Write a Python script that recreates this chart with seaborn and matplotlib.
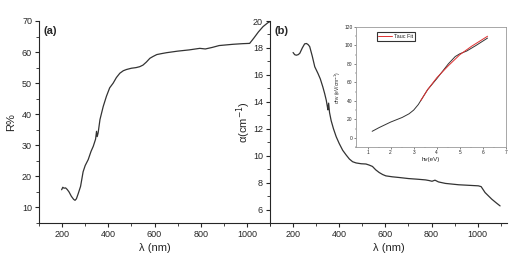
import matplotlib
matplotlib.use('Agg')
import matplotlib.pyplot as plt
import numpy as np
import seaborn as sns
from matplotlib.ticker import MultipleLocator

# (a) reflectance
wl_a = [198, 203, 208, 215, 222, 230, 240, 250, 256, 262, 270, 280, 291, 300, 313,
        325, 335, 345, 349, 352, 356, 364, 378, 392, 406, 421, 435, 450, 465, 479,
        500, 520, 536, 550, 565, 580, 594, 610, 630, 652, 700, 750, 796, 820, 850,
        880, 939, 980, 1012, 1030, 1050, 1070, 1090, 1100]
R = [15.7, 16.5, 16.2, 16.3, 15.8, 15.0, 13.6, 12.6, 12.3, 12.8, 14.5, 16.8, 21.5, 23.5, 25.4,
     28.0, 29.7, 32.0, 34.5, 32.8, 34.0, 38.3, 42.5, 45.8, 48.5, 50.0, 51.8, 53.2, 54.0, 54.4,
     54.8, 55.0, 55.3, 55.8, 56.8, 58.0, 58.6, 59.2, 59.5, 59.8, 60.3, 60.7, 61.2, 61.0, 61.5,
     62.1, 62.5, 62.7, 62.8, 64.5, 66.5, 68.2, 69.4, 69.8]

# (b) absorption coefficient
wl_b = [200, 207, 214, 222, 229, 240, 250, 258, 265, 272, 283, 294, 308, 318, 329,
        337, 344, 348, 351, 354, 358, 365, 375, 387, 400, 415, 430, 444, 458, 473,
        495, 516, 530, 544, 558, 573, 588, 602, 630, 659, 700, 740, 774, 790, 802,
        815, 830, 860, 917, 960, 1003, 1015, 1032, 1061, 1080, 1097]
alpha = [17.66, 17.5, 17.46, 17.5, 17.6, 18.0, 18.3, 18.33, 18.25, 18.1, 17.4, 16.6, 16.1, 15.7, 15.1,
         14.6, 14.1, 13.7, 13.4, 13.9, 13.2, 12.6, 12.0, 11.4, 10.9, 10.4, 10.05, 9.75, 9.55, 9.46,
         9.40, 9.38, 9.30, 9.2, 8.95, 8.75, 8.6, 8.5, 8.43, 8.38, 8.3, 8.25, 8.2, 8.15, 8.1,
         8.18, 8.05, 7.94, 7.84, 7.8, 7.76, 7.7, 7.26, 6.77, 6.5, 6.27]

# inset: Tauc plot
hv = [1.2, 1.5, 2.0, 2.5, 2.8, 3.0, 3.2, 3.4, 3.6, 4.0, 4.5, 4.8, 5.0, 5.3, 5.7, 6.2]
ahv = [7, 11, 17, 22, 26, 30, 36, 44, 52, 64, 80, 88, 91, 94, 100, 108]
hv_fit = [3.3, 3.6, 4.0, 4.5, 5.0, 5.5, 6.2]
ahv_fit = [40, 52, 65, 78, 90, 99, 110]

sns.set_style('ticks')
plt.rcParams['font.family'] = ['Liberation Sans', 'DejaVu Sans']

fig = plt.figure(figsize=(5.23, 2.57), dpi=100)
ax1 = fig.add_axes([39/523, 1-223/257, 231/523, 202/257])
ax2 = fig.add_axes([270/523, 1-223/257, 237/523, 202/257])

sns.lineplot(x=wl_a, y=R, ax=ax1, color='#333333', lw=0.9, sort=False)
sns.lineplot(x=wl_b, y=alpha, ax=ax2, color='#333333', lw=0.9, sort=False)

ax1.set_xlim(100, 1100)
ax1.set_ylim(5, 70)
ax2.set_xlim(100, 1127)
ax2.set_ylim(5, 20)

for ax in (ax1, ax2):
    ax.spines['top'].set_visible(False)
    ax.spines['right'].set_visible(False)
    ax.xaxis.set_major_locator(MultipleLocator(200))
    ax.xaxis.set_minor_locator(MultipleLocator(100))
    ax.tick_params(labelsize=6.5, length=3, width=0.8, pad=2)
    ax.tick_params(which='minor', length=2, width=0.6)
    ax.set_xlabel('λ (nm)', fontsize=8, labelpad=3)

ax1.set_xticks([200, 400, 600, 800, 1000])
ax1.yaxis.set_major_locator(MultipleLocator(10))
ax1.yaxis.set_minor_locator(MultipleLocator(5))
ax1.set_yticks([10, 20, 30, 40, 50, 60, 70])
ax1.set_ylabel('R%', fontsize=8, labelpad=4)
ax1.text(0.02, 0.975, '(a)', transform=ax1.transAxes, fontsize=8, fontweight='bold', va='top')

ax2.set_xticks([200, 400, 600, 800, 1000])
ax2.yaxis.set_major_locator(MultipleLocator(2))
ax2.yaxis.set_minor_locator(MultipleLocator(1))
ax2.set_yticks([6, 8, 10, 12, 14, 16, 18, 20])
ax2.set_ylabel('α(cm$^{-1}$)', fontsize=8, labelpad=0)
ax2.text(0.02, 0.975, '(b)', transform=ax2.transAxes, fontsize=8, fontweight='bold', va='top')

# inset
axi = fig.add_axes([356/523, 1-147/257, 150/523, 120/257])
sns.lineplot(x=hv, y=ahv, ax=axi, color='#333333', lw=0.7, sort=False)
sns.lineplot(x=hv_fit, y=ahv_fit, ax=axi, color='#e03030', lw=0.7, sort=False, label='Tauc Fit')
axi.set_xlim(0.5, 7)
axi.set_ylim(-10, 120)
axi.set_xticks([1, 2, 3, 4, 5, 6, 7])
axi.set_yticks([0, 20, 40, 60, 80, 100, 120])
axi.xaxis.set_minor_locator(MultipleLocator(0.5))
axi.yaxis.set_minor_locator(MultipleLocator(10))
axi.tick_params(labelsize=3.5, length=1.5, width=0.4, pad=1)
axi.tick_params(which='minor', length=1, width=0.3)
for s in axi.spines.values():
    s.set_color('#999999')
    s.set_linewidth(0.6)
axi.set_xlabel('hv(eV)', fontsize=4.5, labelpad=1)
axi.set_ylabel('αhv (eV/cm$^{-1}$)', fontsize=3.5, labelpad=1)
leg = axi.legend(loc='upper left', bbox_to_anchor=(0.12, 0.98), fontsize=4, frameon=True,
                 fancybox=False, handlelength=2.5, borderpad=0.3, handletextpad=0.3)
leg.get_frame().set_edgecolor('black')
leg.get_frame().set_linewidth(0.8)

fig.savefig('out.png', dpi=100)
